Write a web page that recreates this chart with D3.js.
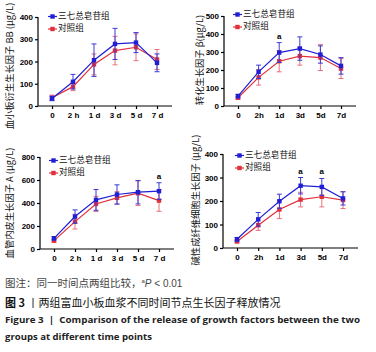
<!DOCTYPE html>
<html><head><meta charset="utf-8">
<script src="https://cdn.jsdelivr.net/npm/d3@7"></script>
<style>
body{margin:0;background:#fff;}
svg{display:block;}
</style></head>
<body><svg id="c" width="376" height="352"></svg>
<script>
const timePoints = ["0","2h","1d","3d","5d","7d"];
const tickLabelsA = ["0","2 h","1 d","3 d","5 d","7 d"];
const tickLabelsB = ["0","2h","1d","3d","5d","7d"];
const seriesNames = ["三七总皂苷组","对照组"];

// Panel 1: PDGF-BB
const p1Blue = [34,109,206,279,285,194];
const p1BlueErr = [10,33,73,70,45,40];
const p1Red = [37,87,187,249,264,209];
const p1RedErr = [12,18,47,64,60,45];
const p1Ticks = [0,100,200,300,400];
const p1Sig = [];

// Panel 2: TGF-beta
const p2Blue = [55,190,297,319,286,223];
const p2BlueErr = [10,37,55,65,48,46];
const p2Red = [46,159,249,277,269,208];
const p2RedErr = [8,43,59,50,72,55];
const p2Ticks = [0,100,200,300,400,500];
const p2Sig = ["1d"];

// Panel 3: VEGF-A
const p3Blue = [93,282,427,474,494,503];
const p3BlueErr = [15,58,90,84,102,73];
const p3Red = [73,238,392,445,485,421];
const p3RedErr = [15,64,66,53,107,93];
const p3Ticks = [0,200,400,600,800];
const p3Sig = ["7d"];

// Panel 4: bFGF
const p4Blue = [37,122,199,265,260,211];
const p4BlueErr = [8,29,30,35,36,28];
const p4Red = [28,97,164,206,218,204];
const p4RedErr = [6,22,39,31,43,36];
const p4Ticks = [0,100,200,300,400];
const p4Sig = ["3d","5d"];

const yLabels = ["血小板衍生生长因子 BB (μg/L)","转化生长因子 β(μg/L)","血管内皮生长因子 A (μg/L)","碱性成纤维细胞生长因子 (μg/L)"];

const captionNote = "图注：同一时间点两组比较，";
const captionCn = "两组富血小板血浆不同时间节点生长因子释放情况";
const captionEn1 = "Comparison of the release of growth factors between the two";
const captionEn2 = "groups at different time points";

const BLUE = "#1f1fd6", RED = "#e0303c", RED_ERR = "#e8707a", BLUE_ERR = "#3a3ad8";
const CJK = "'Noto Sans CJK SC','Noto Sans',sans-serif";
const LAT = "'Liberation Sans',Arial,sans-serif";

const svg = d3.select("#c");

const panels = [
  {blue:p1Blue,be:p1BlueErr,red:p1Red,re:p1RedErr,ticks:p1Ticks,sig:p1Sig,lab:tickLabelsA,
   ax:38, ay:106, top:17, right:172, ylab:yLabels[0], ylx:10, yly:66, lgx:48, lgy:16.5},
  {blue:p2Blue,be:p2BlueErr,red:p2Red,re:p2RedErr,ticks:p2Ticks,sig:p2Sig,lab:tickLabelsB,
   ax:224, ay:106, top:16, right:356, ylab:yLabels[1], ylx:200, yly:60, lgx:233, lgy:14.5},
  {blue:p3Blue,be:p3BlueErr,red:p3Red,re:p3RedErr,ticks:p3Ticks,sig:p3Sig,lab:tickLabelsA,
   ax:40, ay:249, top:157, right:174, ylab:yLabels[2], ylx:10, yly:203, lgx:49, lgy:160.5},
  {blue:p4Blue,be:p4BlueErr,red:p4Red,re:p4RedErr,ticks:p4Ticks,sig:p4Sig,lab:tickLabelsB,
   ax:223, ay:248, top:154, right:358, ylab:yLabels[3], ylx:196, yly:200, lgx:235, lgy:155.5}
];

panels.forEach(p => {
  const g = svg.append("g");
  const x = d3.scalePoint().domain(timePoints).range([p.ax+14, p.right-15]);
  const y = d3.scaleLinear().domain([0, p.ticks[p.ticks.length-1]]).range([p.ay, p.top]);

  const yAxis = g.append("g").attr("transform",`translate(${p.ax},0)`)
    .call(d3.axisLeft(y).tickValues(p.ticks).tickSize(3).tickPadding(2));
  yAxis.select(".domain").attr("d",`M0,${p.ay}V${p.top}`);
  const xAxis = g.append("g").attr("transform",`translate(0,${p.ay})`)
    .call(d3.axisBottom(x).tickSize(3).tickPadding(3).tickFormat((d,i)=>p.lab[i]));
  xAxis.select(".domain").attr("d",`M${p.ax},0H${p.right}`);
  [yAxis,xAxis].forEach(a=>{
    a.selectAll("path,line").attr("stroke","#000").attr("stroke-width",1.2);
    a.selectAll("text").attr("font-family",LAT).attr("font-weight","bold").attr("font-size",8).attr("fill","#000");
  });

  g.append("text").attr("transform",`translate(${p.ylx},${p.yly}) rotate(-90)`)
    .attr("text-anchor","middle").attr("dominant-baseline","middle")
    .attr("font-family",CJK).attr("font-size",9.3).attr("fill","#111").text(p.ylab);

  const series = [
    {m:p.red, e:p.re, c:RED, ec:RED_ERR},
    {m:p.blue, e:p.be, c:BLUE, ec:BLUE_ERR}
  ];
  series.forEach(s=>{
    const eb = g.append("g");
    timePoints.forEach((t,i)=>{
      const cx = x(t), y1 = y(s.m[i]+s.e[i]), y2 = y(Math.max(0,s.m[i]-s.e[i]));
      eb.append("line").attr("x1",cx).attr("x2",cx).attr("y1",y1).attr("y2",y2).attr("stroke",s.ec).attr("stroke-width",1);
      eb.append("line").attr("x1",cx-2.5).attr("x2",cx+2.5).attr("y1",y1).attr("y2",y1).attr("stroke",s.ec).attr("stroke-width",1);
      eb.append("line").attr("x1",cx-2.5).attr("x2",cx+2.5).attr("y1",y2).attr("y2",y2).attr("stroke",s.ec).attr("stroke-width",1);
    });
    const line = d3.line().x((d,i)=>x(timePoints[i])).y(d=>y(d));
    g.append("path").attr("d",line(s.m)).attr("fill","none").attr("stroke",s.c).attr("stroke-width",1.2);
    g.selectAll(null).data(s.m).enter().append("rect")
      .attr("x",(d,i)=>x(timePoints[i])-2.2).attr("y",d=>y(d)-2.2)
      .attr("width",4.4).attr("height",4.4).attr("fill",s.c);
  });

  p.sig.forEach(t=>{
    const i = timePoints.indexOf(t);
    const top = Math.max(p.blue[i]+p.be[i], p.red[i]+p.re[i]);
    g.append("text").attr("x",x(t)).attr("y",y(top)-4).attr("text-anchor","middle")
      .attr("font-family",LAT).attr("font-weight","bold").attr("font-size",8).attr("fill","#000").text("a");
  });

  const lg = [{c:BLUE,n:seriesNames[0]},{c:RED,n:seriesNames[1]}];
  lg.forEach((l,k)=>{
    const ly = p.lgy + k*12.5;
    g.append("line").attr("x1",p.lgx).attr("x2",p.lgx+9).attr("y1",ly).attr("y2",ly).attr("stroke",l.c).attr("stroke-width",1.2);
    g.append("rect").attr("x",p.lgx+4.5-2.2).attr("y",ly-2.2).attr("width",4.4).attr("height",4.4).attr("fill",l.c);
    g.append("text").attr("x",p.lgx+10).attr("y",ly).attr("dominant-baseline","middle")
      .attr("font-family",CJK).attr("font-size",8.6).attr("fill","#111").text(l.n);
  });
});

const cap = svg.append("g");
const t1 = cap.append("text").attr("x",5).attr("y",287).attr("font-family",CJK).attr("font-size",10.5).attr("fill","#444");
t1.append("tspan").text(captionNote);
t1.append("tspan").attr("font-family",LAT).attr("font-size",6).attr("dy",-4).text("a");
t1.append("tspan").attr("font-family",LAT).attr("font-style","italic").attr("font-size",10).attr("dy",4).text("P");
t1.append("tspan").attr("font-family",LAT).attr("font-size",10).text(" < 0.01");

const t2 = cap.append("text").attr("x",5).attr("y",307).attr("font-family",CJK).attr("font-size",11).attr("fill","#111");
t2.append("tspan").attr("font-weight","bold").text("图 3");
t2.append("tspan").text("\u00a0丨");
t2.append("tspan").text(captionCn);

cap.append("text").attr("x",5).attr("y",323).attr("font-family","'Open Sans',sans-serif").attr("font-weight","bold")
  .attr("font-size",9.5).attr("fill","#222").attr("textLength",355).attr("lengthAdjust","spacingAndGlyphs")
  .text("Figure 3\u00a0\u00a0|\u00a0\u00a0" + captionEn1);
cap.append("text").attr("x",5).attr("y",340).attr("font-family","'Open Sans',sans-serif").attr("font-weight","bold")
  .attr("font-size",9.5).attr("fill","#222").attr("textLength",147).attr("lengthAdjust","spacingAndGlyphs")
  .text(captionEn2);
</script></body></html>
